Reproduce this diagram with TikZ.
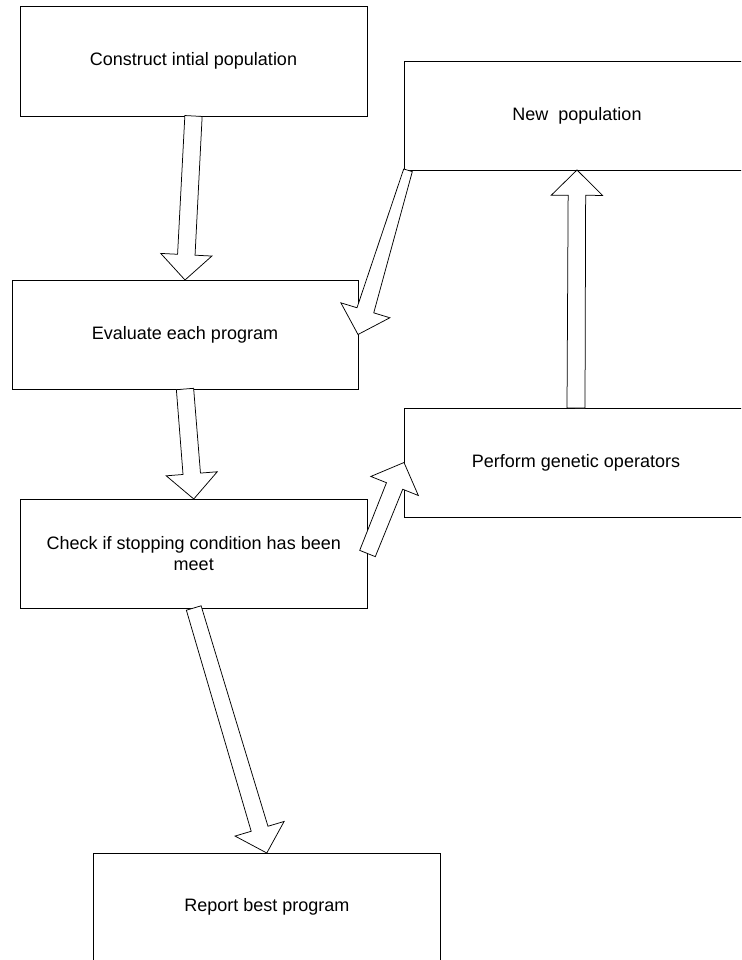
\documentclass[tikz,border=0pt]{standalone}
\usepackage{fontspec}
\setmainfont{Liberation Sans}
\usetikzlibrary{calc}
\tikzset{
  flowbox/.style={draw=black, line width=0.9pt, fill=white, rectangle, inner sep=0pt, outer sep=0pt,
    anchor=north west, align=center, font=\fontsize{18}{21.3}\selectfont},
  barrow/.style={draw=black, line width=0.75pt, fill=white, line join=miter}
}
\newcommand\blockarrow[3]{%
  \path (#2) coordinate (ba-a) (#3) coordinate (ba-b);
  \coordinate (ba-h) at ($(ba-b)!25.3pt!(ba-a)$);
  \draw[barrow] ($(ba-a)!#1pt!90:(ba-b)$)
    -- ($(ba-h)!8.75pt!-90:(ba-a)$)
    -- ($(ba-h)!25.6pt!-90:(ba-a)$)
    -- (ba-b)
    -- ($(ba-h)!25.6pt!90:(ba-a)$)
    -- ($(ba-h)!8.75pt!90:(ba-a)$)
    -- ($(ba-a)!#1pt!-90:(ba-b)$) -- cycle;
}
\begin{document}
\begin{tikzpicture}[x=1pt, y=-1pt]
  \clip (0,0) rectangle (741,960);
  \fill[white] (0,0) rectangle (741,960);

  \node[flowbox, minimum width=347pt, minimum height=110pt] (init) at (20,6) {Construct intial population};
  \node[flowbox, minimum width=346pt, minimum height=109pt] (newpop) at (404,61) {New\ \ population};
  \node[flowbox, minimum width=346pt, minimum height=109pt] (eval) at (12,280) {Evaluate each program};
  \node[flowbox, minimum width=344pt, minimum height=109pt] (perform) at (404,408) {Perform genetic operators};
  \node[flowbox, minimum width=347.5pt, minimum height=109pt] (check) at (20,499) {Check if stopping condition has been\\meet};
  \node[flowbox, minimum width=347pt, minimum height=108pt] (report) at (93.3,853) {Report best program};

  \coordinate (npcorner) at ($(newpop.south west)+(4,0.3)$);

  \blockarrow{8.65}{init.south}{eval.north}
  \blockarrow{4.5}{npcorner}{eval.east}
  \blockarrow{9}{perform.north}{newpop.south}
  \blockarrow{8.65}{eval.south}{check.north}
  \blockarrow{8.4}{check.east}{perform.west}
  \blockarrow{7.7}{check.south}{report.north}
\end{tikzpicture}
\end{document}
